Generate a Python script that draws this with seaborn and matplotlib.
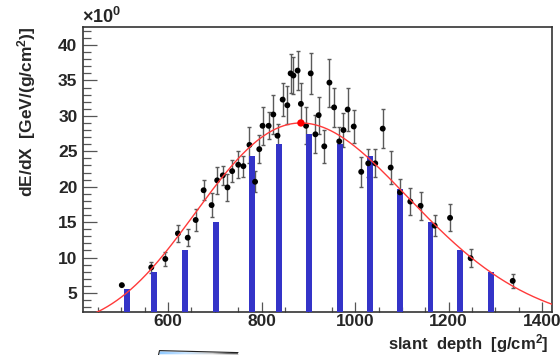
import numpy as np
import pandas as pd
import matplotlib
matplotlib.use("Agg")
import matplotlib.pyplot as plt
import seaborn as sns
from matplotlib.ticker import MultipleLocator, FixedLocator
from matplotlib.patches import Polygon

# Measured energy-deposit profile: slant depth [g/cm^2], dE/dX and its uncertainty
depth = [501, 564, 594, 621, 642, 659, 676, 693, 705, 717, 727, 737, 750, 761,
         774, 786, 795, 802, 815, 825, 834, 845, 855, 862, 868, 877, 884, 895,
         905, 915, 922, 934, 945, 955, 966, 975, 984, 997, 1013, 1028, 1043,
         1059, 1076, 1096, 1118, 1140, 1170, 1203, 1247, 1337]
dedx = [6.1, 8.6, 9.8, 13.4, 12.8, 15.3, 19.5, 17.4, 20.9, 21.6, 19.9, 22.2,
        23.1, 22.9, 25.9, 20.7, 25.3, 28.6, 28.6, 30.2, 27.2, 32.3, 31.5, 36.0,
        35.7, 36.4, 31.7, 28.6, 36.0, 27.4, 30.1, 25.7, 34.7, 31.2, 26.4, 28.0,
        30.9, 28.5, 22.1, 23.3, 23.3, 28.2, 22.7, 19.2, 17.9, 17.3, 14.5, 15.6,
        9.9, 6.7]
dedx_err = [0.0, 0.8, 1.0, 1.2, 1.2, 1.5, 1.4, 1.7, 1.9, 1.3, 1.9, 1.6, 1.9,
            1.5, 2.5, 1.5, 2.0, 2.7, 1.9, 2.7, 1.6, 2.3, 2.7, 2.8, 2.6, 2.8,
            2.9, 2.6, 2.9, 2.7, 2.6, 2.3, 3.4, 2.8, 2.1, 2.4, 3.0, 2.3, 2.1,
            2.0, 2.0, 2.8, 2.3, 1.9, 1.9, 2.0, 1.5, 1.9, 1.3, 1.0]

# Binned reference profile (bars)
bar_depth = [513, 570, 636, 703, 779, 837, 902, 967, 1032, 1096, 1161, 1225, 1291]
bar_dedx = [5.5, 7.9, 11.1, 15.0, 24.4, 26.0, 27.5, 26.0, 24.4, 19.7, 15.0, 11.1, 7.9]

# Gaisser-Hillas fit parameters
gh_nmax = 29.0
gh_xmax = 884.0
gh_x0 = -232.0
gh_lambda = 46.0

x_ticks = [600, 800, 1000, 1200, 1400]
y_ticks = [5, 10, 15, 20, 25, 30, 35, 40]

sns.set_theme(style="ticks")
plt.rcParams['font.family'] = ['Liberation Sans', 'DejaVu Sans']
plt.rcParams['mathtext.fontset'] = 'custom'
plt.rcParams['mathtext.rm'] = 'Liberation Sans:bold'
plt.rcParams['mathtext.it'] = 'Liberation Sans:bold'
plt.rcParams['mathtext.bf'] = 'Liberation Sans:bold'

W, H = 560, 355
fig = plt.figure(figsize=(W / 100, H / 100), dpi=100)
fig.patch.set_facecolor('white')
left, right, top, bottom = 83, 552, 27, 311.7
ax = fig.add_axes([left / W, 1 - bottom / H, (right - left) / W, (bottom - top) / H])
ax.set_facecolor('white')

# bars
ax.bar(bar_depth, bar_dedx, width=12.5, color='#3434c8', linewidth=0, zorder=3)

# data points with error bars
ax.errorbar(depth, dedx, yerr=dedx_err, fmt='none', ecolor='#5a5a5a',
            elinewidth=1.0, capsize=1.6, capthick=1.0, zorder=2)
pts = pd.DataFrame({'depth': depth, 'dedx': dedx})
sns.scatterplot(data=pts, x='depth', y='dedx', color='black', s=18,
                edgecolor='none', linewidth=0, zorder=4, ax=ax)

# fit curve
xs = np.linspace(420, 1425, 600)
w = gh_xmax - gh_x0
gh = gh_nmax * ((xs - gh_x0) / w) ** (w / gh_lambda) * np.exp((gh_xmax - xs) / gh_lambda)
fit = pd.DataFrame({'depth': xs, 'dedx': gh})
sns.lineplot(data=fit, x='depth', y='dedx', color='#ff3a3a', linewidth=1.0,
             zorder=5, ax=ax)
ax.scatter([gh_xmax], [gh_nmax], color='#ff0000', s=28, edgecolor='none', zorder=6)

ax.set_xlim(418, 1421)
ax.set_ylim(2.35, 42.55)
ax.xaxis.set_major_locator(FixedLocator(x_ticks))
ax.xaxis.set_minor_locator(MultipleLocator(50))
ax.yaxis.set_major_locator(FixedLocator(y_ticks))
ax.yaxis.set_minor_locator(MultipleLocator(1))
ax.tick_params(axis='both', which='both', direction='in', color='#555555', width=0.9,
               top=False, right=False, labelsize=12.5)
ax.tick_params(axis='x', which='major', length=7, pad=1.5)
ax.tick_params(axis='x', which='minor', length=3.5)
ax.tick_params(axis='y', which='major', length=10, pad=4)
ax.tick_params(axis='y', which='minor', length=5.5)
for lab in ax.get_xticklabels() + ax.get_yticklabels():
    lab.set_fontweight('bold')
for sp in ax.spines.values():
    sp.set_color('#333333')
    sp.set_linewidth(1.2)
ax.set_xlabel('')
ax.set_ylabel('')

fig.text(27 / W, 1 - 112 / H, 'dE/dX  [GeV/(g/cm$^{2}$)]', rotation=90,
         ha='center', va='center', fontsize=12.5, fontweight='bold')
fig.text(549 / W, 1 - 344 / H, 'slant  depth  [g/cm$^{2}$]', ha='right',
         va='center', fontsize=12, fontweight='bold')
fig.text(82 / W, 1 - 23 / H, r'$\times$10$^{0}$', ha='left', va='baseline',
         fontsize=13, fontweight='bold')

# partially visible shaded wedge at the lower edge
wax = fig.add_axes([150 / W, 0, 100 / W, 8 / H])
wax.set_xlim(150, 250)
wax.set_ylim(355, 347)
wax.axis('off')
grad = np.linspace(0, 1, 256)[None, :]
cmap = matplotlib.colors.LinearSegmentedColormap.from_list(
    'wedge', ['#8cc8ff', '#c8e4ff', '#d0d0d0', '#202020'])
img = wax.imshow(grad, extent=(158, 240, 355, 350.5), aspect='auto', cmap=cmap)
poly = Polygon([(158, 355), (159.5, 350.6), (238, 352.6), (240, 355)],
               closed=True, transform=wax.transData, facecolor='none')
wax.add_patch(poly)
img.set_clip_path(poly)
wax.plot([158.5, 159.5, 238], [355, 350.6, 352.6], color='#222222', lw=0.8)

fig.savefig('out.png', dpi=100)
